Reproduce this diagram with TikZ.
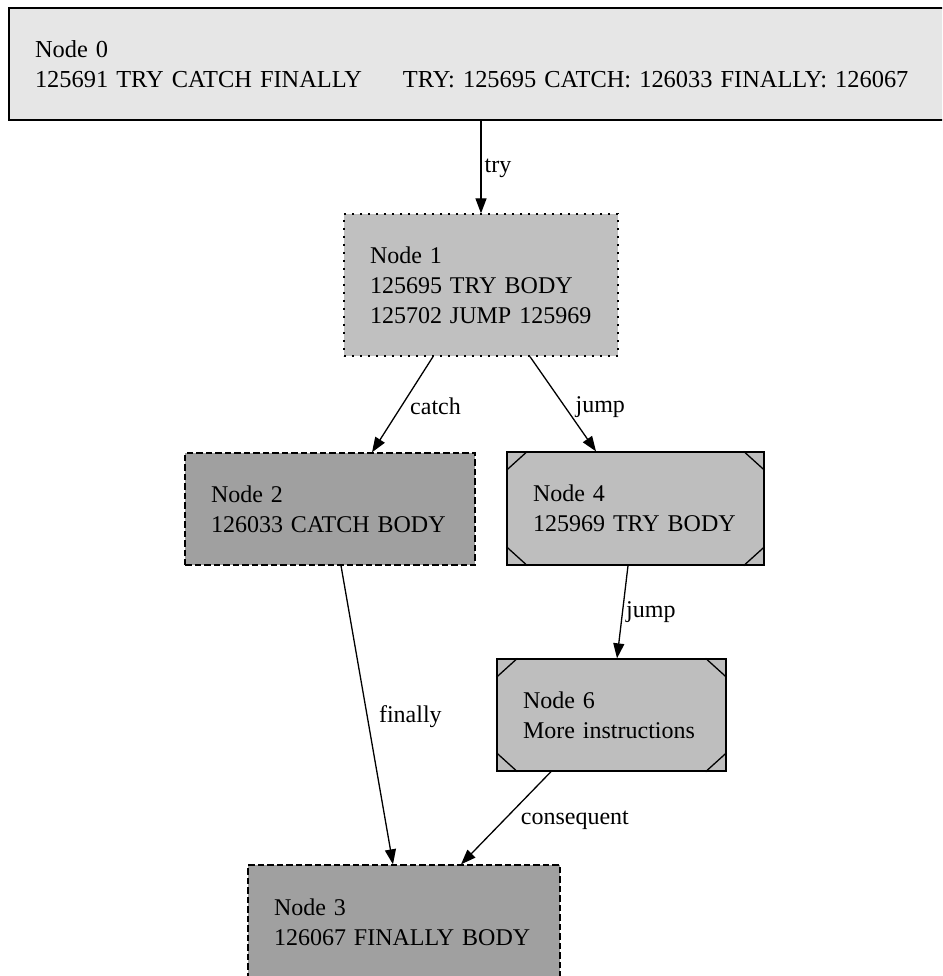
\documentclass[tikz,border=0pt]{standalone}
\usepackage{fontspec}
\setmainfont{Liberation Serif}
\usetikzlibrary{arrows.meta,calc}

\definecolor{fillA}{HTML}{E6E6E6}
\definecolor{fillB}{HTML}{C0C0C0}
\definecolor{fillC}{HTML}{A0A0A0}
\definecolor{fillD}{HTML}{BEBEBE}

\tikzset{
  blockbox/.style={rectangle, draw=black, line width=1.3pt, inner sep=0pt,
    font=\fontsize{24}{30}\selectfont, align=left},
  dottedbox/.style={blockbox, dash pattern=on 1.6pt off 6.4pt},
  dashedbox/.style={blockbox, dash pattern=on 6.5pt off 3pt},
  diag/.style={draw=black, line width=1.3pt},
  flow/.style={draw=black, line width=1.3pt, -{Triangle[length=15pt,width=11pt]}},
  elabel/.style={font=\fontsize{24}{30}\selectfont, inner sep=0pt, anchor=west}
}

\begin{document}
\begin{tikzpicture}[x=1pt,y=-1pt]
  \useasboundingbox (0,0) rectangle (942,976);
  \clip (0,0) rectangle (942,976);

  % blocks
  \node[blockbox, fill=fillA, minimum width=944, minimum height=112, text width=892,
        font=\fontsize{24.4}{30}\selectfont]
    (n0) at (481,64) {Node 0\\125691 TRY CATCH FINALLY\hspace*{41pt}TRY: 125695 CATCH: 126033 FINALLY: 126067};
  \node[dottedbox, fill=fillB, minimum width=274, minimum height=142, text width=222]
    (n1) at (481,285) {Node 1\\125695 TRY BODY\\125702 JUMP 125969};
  \node[dashedbox, fill=fillC, minimum width=290, minimum height=112, text width=238]
    (n2) at (330,509) {Node 2\\126033 CATCH BODY};
  \node[blockbox, fill=fillD, minimum width=257, minimum height=113, text width=205]
    (n4) at (635.5,508.5) {Node 4\\125969 TRY BODY};
  \node[blockbox, fill=fillD, minimum width=229, minimum height=112, text width=177]
    (n6) at (611.5,715) {Node 6\\More instructions};
  \node[dashedbox, fill=fillC, minimum width=312, minimum height=114, text width=260]
    (n3) at (404,922) {Node 3\\126067 FINALLY BODY};

  % cut corners of the diagonal-style blocks
  \foreach \n in {n4,n6} {
    \draw[diag] ($(\n.north west)+(21,0)$) -- ($(\n.north west)+(0,19)$);
    \draw[diag] ($(\n.north east)+(-21,0)$) -- ($(\n.north east)+(0,19)$);
    \draw[diag] ($(\n.south west)+(0,-19)$) -- ($(\n.south west)+(21,0)$);
    \draw[diag] ($(\n.south east)+(0,-19)$) -- ($(\n.south east)+(-21,0)$);
  }

  % connectors
  \draw[flow] (n0.south) -- (n1.north)
    node[elabel, pos=0.51, xshift=3pt] {try};
  \draw[flow] ([xshift=-48pt]n1.south) -- ([xshift=42pt]n2.north)
    node[elabel, pos=0.515, xshift=8pt] {catch};
  \draw[flow] ([xshift=49pt]n1.south) -- ([xshift=-39.5pt]n4.north)
    node[elabel, pos=0.53, xshift=10pt] {jump};
  \draw[flow] ([xshift=-7.5pt]n4.south) -- ([xshift=5.5pt]n6.north)
    node[elabel, pos=0.5, xshift=3pt] {jump};
  \draw[flow] ([xshift=11pt]n2.south) -- ([xshift=-11pt]n3.north)
    node[elabel, pos=0.507, xshift=11pt] {finally};
  \draw[flow] ([xshift=-60.5pt]n6.south) -- ([xshift=57pt]n3.north)
    node[elabel, pos=0.52, xshift=16pt] {consequent};
\end{tikzpicture}
\end{document}
